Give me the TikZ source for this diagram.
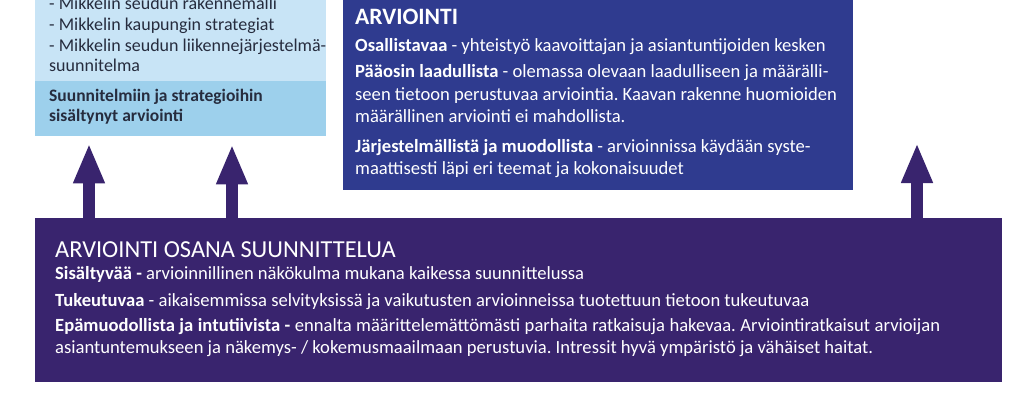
\documentclass[tikz,border=0pt]{standalone}
\usepackage{fontspec}
\setmainfont{Carlito}
\usetikzlibrary{arrows.meta,positioning}
\frenchspacing

\definecolor{vaalea}{RGB}{200,228,246}
\definecolor{kaista}{RGB}{157,208,236}
\definecolor{sininen}{RGB}{47,59,143}
\definecolor{violetti}{RGB}{57,36,110}
\definecolor{tumma}{RGB}{38,44,62}

\tikzset{
  laatikko/.style={rectangle, inner sep=0pt, anchor=north west},
  teksti/.style={anchor=base west, inner sep=0pt, align=left, font=\fontsize{18.6}{22.5}\selectfont},
  nuoli/.style={violetti, line width=12pt, -{Triangle[width=29pt,length=40pt]}}
}

\begin{document}
\begin{tikzpicture}[x=1pt,y=-1pt]
\clip (0,0) rectangle (1024,406);
\useasboundingbox (0,0) rectangle (1024,406);
% laatikot
\node[laatikko, fill=vaalea, minimum width=291pt, minimum height=111pt] (suunnitelmat) at (35,-30) {};
\node[laatikko, fill=kaista, minimum width=291pt, minimum height=55pt] (kaista) at (35,81) {};
\node[laatikko, fill=sininen, minimum width=510pt, minimum height=220pt] (arviointi) at (343,-30) {};
\node[laatikko, fill=violetti, minimum width=967pt, minimum height=164pt] (suunnittelu) at (35,218) {};
% nuolet
\coordinate (x1) at (89,0);
\coordinate (x2) at (232,0);
\coordinate (kolmas) at (917,143);
\draw[nuoli, shorten >=7pt] (suunnittelu.north -| x1) -- (kaista.south -| x1);
\draw[nuoli, shorten >=8pt] (suunnittelu.north -| x2) -- (kaista.south -| x2);
\draw[nuoli] (suunnittelu.north -| kolmas) -- (kolmas);
% tekstit (monirivisen solmun kanta = viimeinen rivi)
\node[teksti, text=tumma, font=\fontsize{18}{20.7}\selectfont] (lista) at (49,72) {- Mikkelin seudun rakennemalli\\- Mikkelin kaupungin strategiat\\- Mikkelin seudun liikennejärjestelmä-\\suunnitelma};
\node[teksti, text=tumma, font=\bfseries\fontsize{17.5}{20}\selectfont] (kaistateksti) at (49,122) {Suunnitelmiin ja strategioihin\\sisältynyt arviointi};
\node[teksti, text=white, font=\bfseries\fontsize{23.5}{28}\selectfont] (otsikko) at (355,25) {ARVIOINTI};
\node[teksti, text=white] (osallistava) at (355,52) {\textbf{Osallistavaa} - yhteistyö kaavoittajan ja asiantuntijoiden kesken};
\node[teksti, text=white] (laadullinen) at (355,123) {\textbf{Pääosin laadullista} - olemassa olevaan laadulliseen ja määrälli-\\seen tietoon perustuvaa arviointia. Kaavan rakenne huomioiden\\määrällinen arviointi ei mahdollista.};
\node[teksti, text=white] (jarjestelma) at (355,175) {\textbf{Järjestelmällistä ja muodollista} - arvioinnissa käydään syste-\\maattisesti läpi eri teemat ja kokonaisuudet};
\node[teksti, text=white, font=\fontsize{24.4}{28}\selectfont] (otsikko2) at (55,257) {ARVIOINTI OSANA SUUNNITTELUA};
\node[teksti, text=white] (sisaltyva) at (55,279) {\textbf{Sisältyvää -} arvioinnillinen näkökulma mukana kaikessa suunnittelussa};
\node[teksti, text=white] (tukeutuva) at (55,306) {\textbf{Tukeutuvaa} - aikaisemmissa selvityksissä ja vaikutusten arvioinneissa tuotettuun tietoon tukeutuvaa};
\node[teksti, text=white, font=\fontsize{18.6}{21.5}\selectfont] (epamuodollinen) at (55,353) {\makebox[885pt][s]{\textbf{Epämuodollista ja intutiivista -} ennalta määrittelemättömästi parhaita ratkaisuja hakevaa. Arviointiratkaisut arvioijan}\\asiantuntemukseen ja näkemys- / kokemusmaailmaan perustuvia. Intressit hyvä ympäristö ja vähäiset haitat.};
\end{tikzpicture}
\end{document}
